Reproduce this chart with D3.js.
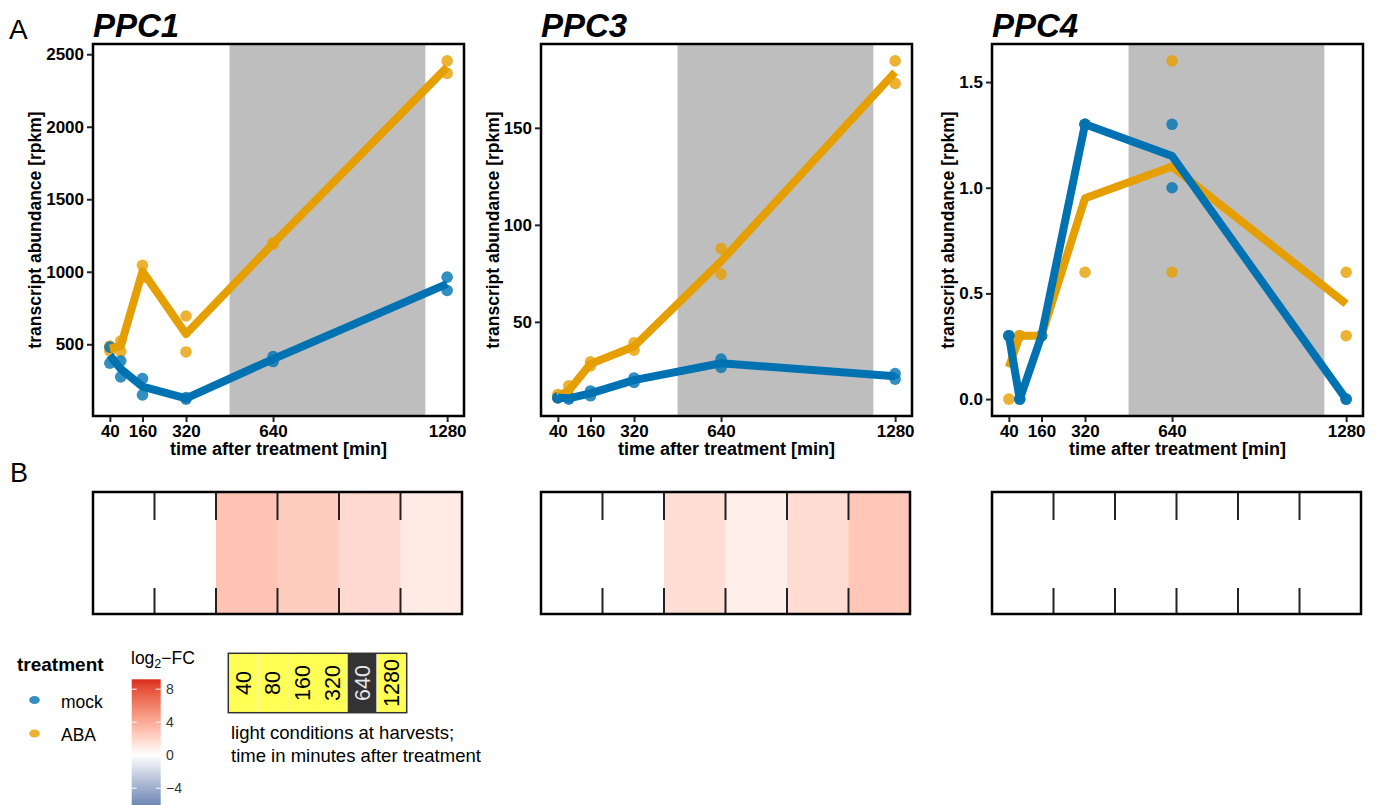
<!DOCTYPE html>
<html>
<head>
<meta charset="utf-8">
<script src="https://cdn.jsdelivr.net/npm/d3@7"></script>
<style>
  body { margin: 0; background: #fff; }
  text { font-family: "Liberation Sans", Arial, sans-serif; }
</style>
</head>
<body>
<div id="chart"></div>
<script>
// time points (min) and labels
const times = [40, 80, 160, 320, 640, 1280]
const xTickLabels = [40, 160, 320, 640, 1280]
const genes = ["PPC1", "PPC3", "PPC4"]
const treatments = ["mock", "ABA"]

// two replicates per time point, transcript abundance [rpkm]
const ppc1Mock = [[370, 480], [385, 275], [264, 151], [133, 122], [415, 381], [963, 871]]
const ppc1Aba = [[488, 454], [523, 450], [1045, 960], [695, 447], [1200, 1190], [2454, 2368]]
const ppc3Mock = [[11, 10.8], [10.2, 11], [14.4, 11.9], [21.1, 18.8], [30.8, 26.5], [23.4, 20.5]]
const ppc3Aba = [[12.6, 10.8], [17, 12], [29.4, 27.3], [39.2, 35.4], [87.8, 74.6], [184.5, 172.9]]
const ppc4Mock = [[0.3, 0.3], [0, 0], [0.3, 0.3], [1.3, 1.3], [1.3, 1.0], [0, 0]]
const ppc4Aba = [[0, 0.3], [0.3, 0.3], [0.3, 0.3], [0.6, 1.3], [1.6, 0.6], [0.6, 0.3]]

const ppc1Ticks = [500, 1000, 1500, 2000, 2500]
const ppc3Ticks = [50, 100, 150]
const ppc4Ticks = [0, 0.5, 1, 1.5]

// log2 fold change ABA vs mock per time point
const ppc1FC = [0, 0, 2.9, 2.4, 1.8, 1.0]
const ppc3FC = [0, 0, 1.6, 0.8, 1.7, 2.7]
const ppc4FC = [0, 0, 0, 0, 0, 0]
const fcTicks = [8, 4, 0, -4]

const darkPeriod = [480, 1200]
const lightDark = [false, false, false, false, true, false]

const panels = [
    {gene: genes[0], mock: ppc1Mock, aba: ppc1Aba, ticks: ppc1Ticks, fc: ppc1FC, fmt: d3.format("d")},
    {gene: genes[1], mock: ppc3Mock, aba: ppc3Aba, ticks: ppc3Ticks, fc: ppc3FC, fmt: d3.format("d")},
    {gene: genes[2], mock: ppc4Mock, aba: ppc4Aba, ticks: ppc4Ticks, fc: ppc4FC, fmt: d3.format(".1f")}
]

const colors = {mock: "#0072B2", ABA: "#E69F00"}
const W = 1383, H = 805
const boxLefts = [93, 541, 992]
const boxW = 371, boxTop = 44, boxBottom = 416
const heatTop = 492, heatBottom = 614

const svg = d3.select("#chart").append("svg")
    .attr("width", W)
    .attr("height", H)

const fcColor = d3.scaleLinear()
    .domain([-6.1, 0, 9.2])
    .range(["#6C86B3", "#ffffff", "#DA2C1F"])
    .interpolate(d3.interpolateLab)
    .clamp(true)

// panel letters
svg.append("text").attr("x", 9).attr("y", 39).style("font-size", "28px").text("A")
svg.append("text").attr("x", 10).attr("y", 482).style("font-size", "27px").text("B")

panels.forEach((p, i) => {
    let left = boxLefts[i], right = left + boxW

    let x = d3.scaleLinear().domain([40 - 62, 1280 + 62]).range([left, right])
    let all = p.mock.flat().concat(p.aba.flat())
    let lo = d3.min(all), hi = d3.max(all), pad = (hi - lo) * 0.05
    let y = d3.scaleLinear().domain([lo - pad, hi + pad]).range([boxBottom, boxTop])

    let g = svg.append("g")

    // night band
    g.append("rect")
        .attr("x", x(darkPeriod[0]))
        .attr("y", boxTop)
        .attr("width", x(darkPeriod[1]) - x(darkPeriod[0]))
        .attr("height", boxBottom - boxTop)
        .attr("fill", "#BEBEBE")

    // replicate points
    let series = [{key: "ABA", vals: p.aba}, {key: "mock", vals: p.mock}]
    series.forEach(s => {
        let pts = []
        s.vals.forEach((reps, j) => reps.forEach(v => pts.push({t: times[j], v: v})))
        g.selectAll(null).data(pts).enter().append("circle")
            .attr("cx", d => x(d.t))
            .attr("cy", d => y(d.v))
            .attr("r", 5.8)
            .attr("fill", colors[s.key])
            .attr("fill-opacity", 0.8)
    })

    // mean lines
    let line = d3.line().x((d, j) => x(times[j])).y(d => y(d3.mean(d)))
    series.forEach(s => {
        g.append("path")
            .datum(s.vals)
            .attr("d", line)
            .attr("fill", "none")
            .attr("stroke", colors[s.key])
            .attr("stroke-width", 8)
            .attr("stroke-linejoin", "round")
    })

    // frame
    g.append("rect")
        .attr("x", left).attr("y", boxTop)
        .attr("width", boxW).attr("height", boxBottom - boxTop)
        .attr("fill", "none").attr("stroke", "#000").attr("stroke-width", 2.5)

    // axes
    let yAxis = g.append("g")
        .attr("transform", `translate(${left - 1},0)`)
        .call(d3.axisLeft(y).tickValues(p.ticks).tickSize(5).tickPadding(3).tickFormat(p.fmt))
    let xAxis = g.append("g")
        .attr("transform", `translate(0,${boxBottom + 1})`)
        .call(d3.axisBottom(x).tickValues(xTickLabels).tickSize(5).tickPadding(3).tickFormat(d3.format("d")))
    ;[yAxis, xAxis].forEach(a => {
        a.select(".domain").remove()
        a.selectAll("line").attr("stroke", "#222").attr("stroke-width", 2)
        a.selectAll("text")
            .style("font-size", "17px")
            .style("font-weight", "bold")
            .attr("fill", "#000")
    })

    let bb = yAxis.node().getBBox()
    g.append("text")
        .attr("transform", `translate(${left - 1 + bb.x - 5},${(boxTop + boxBottom) / 2}) rotate(-90)`)
        .attr("text-anchor", "middle")
        .style("font-size", "17.5px")
        .style("font-weight", "bold")
        .text("transcript abundance [rpkm]")

    g.append("text")
        .attr("x", (left + right) / 2)
        .attr("y", 455)
        .attr("text-anchor", "middle")
        .style("font-size", "18px")
        .style("font-weight", "bold")
        .text("time after treatment [min]")

    // gene title
    g.append("text")
        .attr("x", left)
        .attr("y", 37)
        .style("font-size", "33px")
        .style("font-weight", "bold")
        .style("font-style", "italic")
        .text(p.gene)

    // heatmap strip
    let band = d3.scaleBand().domain(times).range([left, right - 2])
    let h = svg.append("g")
    h.selectAll(null).data(p.fc).enter().append("rect")
        .attr("x", (d, j) => band(times[j]))
        .attr("y", heatTop)
        .attr("width", band.bandwidth() + 0.5)
        .attr("height", heatBottom - heatTop)
        .attr("fill", d => fcColor(d))
    let inner = times.slice(1)
    h.selectAll(null).data(inner).enter().append("line")
        .attr("x1", d => band(d)).attr("x2", d => band(d))
        .attr("y1", heatTop).attr("y2", heatTop + 28)
        .attr("stroke", "#222").attr("stroke-width", 2)
    h.selectAll(null).data(inner).enter().append("line")
        .attr("x1", d => band(d)).attr("x2", d => band(d))
        .attr("y1", heatBottom - 26).attr("y2", heatBottom)
        .attr("stroke", "#222").attr("stroke-width", 2)
    h.append("rect")
        .attr("x", left).attr("y", heatTop)
        .attr("width", right - 2 - left).attr("height", heatBottom - heatTop)
        .attr("fill", "none").attr("stroke", "#000").attr("stroke-width", 2.5)
})

// treatment legend
let leg = svg.append("g")
leg.append("text").attr("x", 17).attr("y", 671)
    .style("font-size", "19px").style("font-weight", "bold").text("treatment")
treatments.forEach((t, i) => {
    let cy = 700 + i * 33.5
    leg.append("ellipse")
        .attr("cx", 34.5).attr("cy", cy).attr("rx", 5.3).attr("ry", 4)
        .attr("fill", colors[t]).attr("fill-opacity", 0.8)
    leg.append("text").attr("x", 61).attr("y", cy + 7.5)
        .style("font-size", "17.5px").text(t)
})

// colour bar legend
let fcTitle = svg.append("text").attr("x", 131).attr("y", 664).style("font-size", "17.5px")
fcTitle.append("tspan").text("log")
fcTitle.append("tspan").attr("dy", 4).style("font-size", "12.5px").text("2")
fcTitle.append("tspan").attr("dy", -4).text("\u2212FC")

let barX = 131.7, barW = 29
let barY = d3.scaleLinear().domain([9.2, -9.2]).range([679.3, 679.3 + 18.4 * 8.25])
let grad = svg.append("defs").append("linearGradient")
    .attr("id", "fcgrad").attr("x1", 0).attr("x2", 0).attr("y1", 0).attr("y2", 1)
d3.range(0, 21).forEach(k => {
    let v = 9.2 - k * 18.4 / 20
    grad.append("stop").attr("offset", (k / 20 * 100) + "%").attr("stop-color", fcColor(v))
})
svg.append("rect")
    .attr("x", barX).attr("y", barY(9.2))
    .attr("width", barW).attr("height", barY(-9.2) - barY(9.2))
    .attr("fill", "url(#fcgrad)")
fcTicks.forEach(v => {
    svg.append("line").attr("x1", barX).attr("x2", barX + 5)
        .attr("y1", barY(v)).attr("y2", barY(v)).attr("stroke", "#fff").attr("stroke-width", 1)
    svg.append("line").attr("x1", barX + barW - 5).attr("x2", barX + barW)
        .attr("y1", barY(v)).attr("y2", barY(v)).attr("stroke", "#fff").attr("stroke-width", 1)
    svg.append("text").attr("x", 166).attr("y", barY(v) + 5)
        .style("font-size", "14px").attr("fill", "#333")
        .text(v < 0 ? "\u2212" + Math.abs(v) : v)
})

// light condition key
let lx = d3.scaleBand().domain(times).range([228.3, 406.7])
let lTop = 653.3, lBot = 712.7
let lk = svg.append("g")
lk.selectAll(null).data(times).enter().append("rect")
    .attr("x", d => lx(d)).attr("y", lTop)
    .attr("width", lx.bandwidth()).attr("height", lBot - lTop)
    .attr("fill", (d, j) => lightDark[j] ? "#333333" : "#FFFF55")
    .attr("stroke", "#f4f4f4").attr("stroke-width", 0.8)
lk.append("rect")
    .attr("x", 228.3).attr("y", lTop).attr("width", 406.7 - 228.3).attr("height", lBot - lTop)
    .attr("fill", "none").attr("stroke", "#333").attr("stroke-width", 1.5)
lk.selectAll(null).data(times).enter().append("text")
    .attr("transform", d => `translate(${lx(d) + lx.bandwidth() / 2 + 7.5},${(lTop + lBot) / 2}) rotate(-90)`)
    .attr("text-anchor", "middle")
    .style("font-size", "21.5px")
    .attr("fill", (d, j) => lightDark[j] ? "#e6e6e6" : "#000")
    .text(d => d)
lk.append("text").attr("x", 231).attr("y", 739).style("font-size", "18.5px")
    .text("light conditions at harvests;")
lk.append("text").attr("x", 231).attr("y", 761.5).style("font-size", "18.5px")
    .text("time in minutes after treatment")
</script>
</body>
</html>
